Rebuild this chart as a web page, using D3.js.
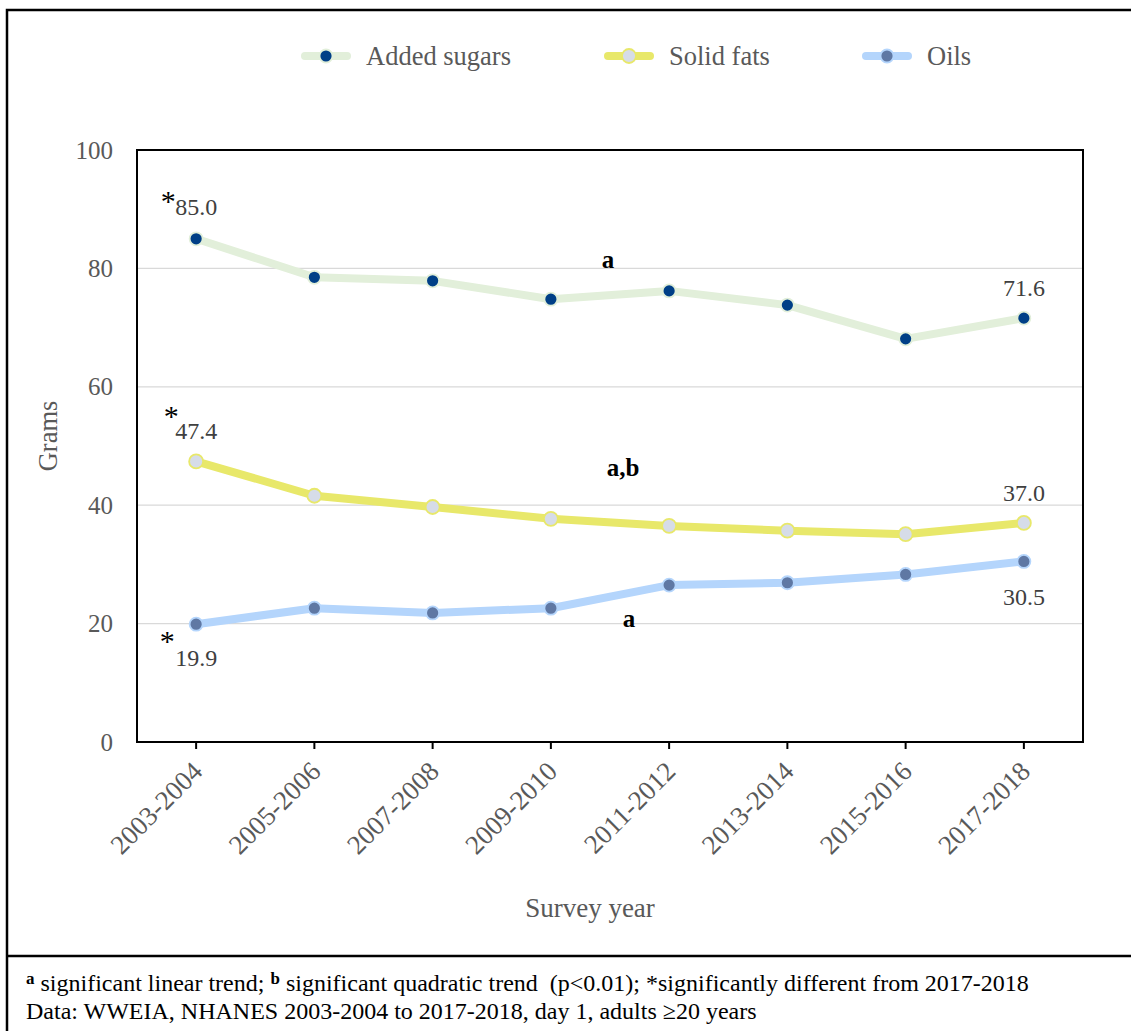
<!DOCTYPE html>
<html>
<head>
<meta charset="utf-8">
<script src="https://cdn.jsdelivr.net/npm/d3@7"></script>
<style>
  body { margin: 0; background: #fff; }
  #chart, #chart text { font-family: 'Liberation Serif', 'DejaVu Serif', serif !important; }
  .foot { white-space: pre; }
</style>
</head>
<body>
<svg id="chart" width="1131" height="1031"></svg>
<script>
// Survey cycles on the x axis
const surveyYears = ["2003-2004", "2005-2006", "2007-2008", "2009-2010",
                     "2011-2012", "2013-2014", "2015-2016", "2017-2018"];
// Mean grams per day, adults 20+
const addedSugars = [85.0, 78.5, 77.9, 74.8, 76.2, 73.8, 68.1, 71.6];
const solidFats   = [47.4, 41.6, 39.7, 37.7, 36.5, 35.7, 35.1, 37.0];
const oils        = [19.9, 22.6, 21.8, 22.6, 26.5, 26.9, 28.3, 30.5];
const yTicks = [0, 20, 40, 60, 80, 100];
const seriesNames = ["Added sugars", "Solid fats", "Oils"];

const FONT = "'Liberation Serif', 'DejaVu Serif', serif";

const series = [
  { name: seriesNames[0], values: addedSugars, line: "#e2efda", fill: "#003f87", stroke: "#e2efda", r: 6.5 },
  { name: seriesNames[1], values: solidFats,   line: "#e8e86a", fill: "#d6dce8", stroke: "#e8e86a", r: 7 },
  { name: seriesNames[2], values: oils,        line: "#b4d5fc", fill: "#5f78a4", stroke: "#b4d5fc", r: 6.5 }
];

const svg = d3.select("#chart").style("font-family", FONT);
const plot = { left: 137, right: 1083, top: 150, bottom: 742 };

// Outer frame and footnote divider
svg.append("path")
  .attr("d", "M7,1031 V10 H1131")
  .attr("fill", "none").attr("stroke", "#000").attr("stroke-width", 2.5);
svg.append("line")
  .attr("x1", 7).attr("x2", 1131).attr("y1", 956).attr("y2", 956)
  .attr("stroke", "#000").attr("stroke-width", 2.5);

const x = d3.scaleBand().domain(surveyYears).range([plot.left, plot.right]);
const y = d3.scaleLinear().domain([0, 100]).range([plot.bottom, plot.top]);
const cx = d => x(d) + x.bandwidth() / 2;

// Horizontal gridlines
svg.append("g").selectAll("line")
  .data(yTicks.filter(t => t > 0 && t < 100))
  .join("line")
  .attr("x1", plot.left).attr("x2", plot.right)
  .attr("y1", d => y(d)).attr("y2", d => y(d))
  .attr("stroke", "#d9d9d9").attr("stroke-width", 1.3);

// Y axis labels
const yAxis = svg.append("g")
  .attr("transform", `translate(${plot.left},0)`)
  .call(d3.axisLeft(y).tickValues(yTicks).tickSize(0).tickPadding(24));
yAxis.attr("font-family", FONT);
yAxis.select(".domain").remove();
yAxis.selectAll("text")
  .attr("font-size", 25).attr("fill", "#595959");

// X axis with ticks at category centres
const xAxis = svg.append("g")
  .attr("transform", `translate(0,${plot.bottom})`)
  .call(d3.axisBottom(x).tickSize(7).tickSizeOuter(0));
xAxis.attr("font-family", FONT);
xAxis.select(".domain").remove();
xAxis.selectAll("line").attr("stroke", "#000").attr("stroke-width", 2);
xAxis.selectAll("text")
  .attr("font-size", 27).attr("fill", "#595959")
  .attr("text-anchor", "end")
  .attr("dy", null).attr("y", 0)
  .attr("transform", "translate(8,31) rotate(-45)");

// Plot frame
svg.append("rect")
  .attr("x", plot.left).attr("y", plot.top)
  .attr("width", plot.right - plot.left).attr("height", plot.bottom - plot.top)
  .attr("fill", "none").attr("stroke", "#000").attr("stroke-width", 2);

// Axis titles
svg.append("text")
  .attr("transform", `translate(57,436) rotate(-90)`)
  .attr("text-anchor", "middle").attr("font-size", 26.5).attr("fill", "#595959")
  .text("Grams");
svg.append("text")
  .attr("x", 590).attr("y", 917)
  .attr("text-anchor", "middle").attr("font-size", 27).attr("fill", "#595959")
  .text("Survey year");

// Series lines and markers
const line = d3.line().x((d, i) => cx(surveyYears[i])).y(d => y(d));
series.forEach(s => {
  svg.append("path")
    .datum(s.values)
    .attr("d", line)
    .attr("fill", "none").attr("stroke", s.line)
    .attr("stroke-width", 8).attr("stroke-linejoin", "round");
  svg.append("g").selectAll("circle")
    .data(s.values)
    .join("circle")
    .attr("cx", (d, i) => cx(surveyYears[i])).attr("cy", d => y(d))
    .attr("r", s.r)
    .attr("fill", s.fill).attr("stroke", s.stroke).attr("stroke-width", 1.8);
});

// Value labels for first and last cycles, with significance asterisks
const first = 0, last = surveyYears.length - 1;
const valueLabels = [
  { i: first, v: addedSugars[first], dy: -24, star: true, sx: -28, sy: -48 },
  { i: last,  v: addedSugars[last],  dy: -22 },
  { i: first, v: solidFats[first],   dy: -22, star: true, sx: -25, sy: -55 },
  { i: last,  v: solidFats[last],    dy: -22 },
  { i: first, v: oils[first],        dy: 42, star: true, sx: -29, sy: 7 },
  { i: last,  v: oils[last],         dy: 44 }
];
valueLabels.forEach(l => {
  const px = cx(surveyYears[l.i]), py = y(l.v);
  svg.append("text")
    .attr("x", px).attr("y", py + l.dy)
    .attr("text-anchor", "middle").attr("font-size", 24).attr("fill", "#404040")
    .text(l.v.toFixed(1));
  if (l.star) {
    svg.append("text")
      .attr("x", px + l.sx).attr("y", py + l.sy + 20)
      .attr("text-anchor", "middle").attr("font-size", 30).attr("fill", "#000")
      .text("*");
  }
});

// Trend annotations
const trendNotes = [
  { text: "a",   x: 608, y: 268 },
  { text: "a,b", x: 623, y: 476 },
  { text: "a",   x: 629, y: 627 }
];
svg.append("g").selectAll("text")
  .data(trendNotes)
  .join("text")
  .attr("x", d => d.x).attr("y", d => d.y)
  .attr("text-anchor", "middle").attr("font-size", 25)
  .attr("font-weight", "bold").attr("fill", "#000")
  .text(d => d.text);

// Legend
const legendX = [305, 608, 866];
const legend = svg.append("g");
series.forEach((s, k) => {
  const g = legend.append("g").attr("transform", `translate(${legendX[k]},56)`);
  g.append("line").attr("x1", 0).attr("x2", 42).attr("y1", 0).attr("y2", 0)
    .attr("stroke", s.line).attr("stroke-width", 8).attr("stroke-linecap", "round");
  g.append("circle").attr("cx", 21).attr("cy", 0).attr("r", s.r)
    .attr("fill", s.fill).attr("stroke", s.stroke).attr("stroke-width", 1.8);
  g.append("text").attr("x", 61).attr("y", 9)
    .attr("font-size", 26.5).attr("fill", "#595959").text(s.name);
});

// Footnote
const foot = svg.append("text").attr("class", "foot").attr("x", 26).attr("y", 991)
  .attr("font-size", 24).attr("fill", "#000");
foot.append("tspan").attr("font-weight", "bold").attr("font-size", 17).attr("dy", -7).text("a");
foot.append("tspan").attr("dy", 7).text(" significant linear trend; ");
foot.append("tspan").attr("font-weight", "bold").attr("font-size", 17).attr("dy", -7).text("b");
foot.append("tspan").attr("dy", 7).text(" significant quadratic trend  (p<0.01); *significantly different from 2017-2018");
svg.append("text").attr("class", "foot").attr("x", 26).attr("y", 1019)
  .attr("font-size", 24).attr("fill", "#000")
  .text("Data: WWEIA, NHANES 2003-2004 to 2017-2018, day 1, adults ≥20 years");
</script>
</body>
</html>
